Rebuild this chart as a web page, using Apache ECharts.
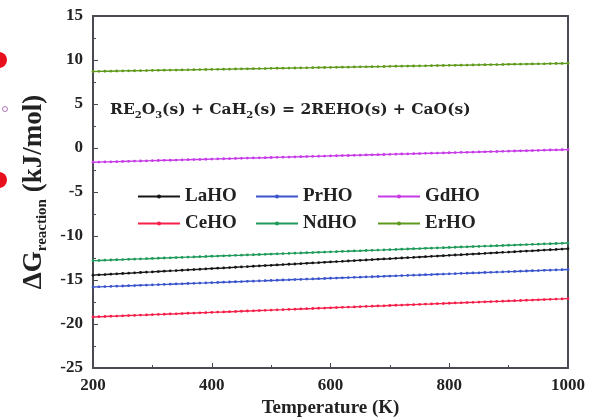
<!DOCTYPE html>
<html>
<head>
<meta charset="utf-8">
<script src="https://cdn.jsdelivr.net/npm/echarts@6/dist/echarts.min.js"></script>
<style>
  html, body { margin: 0; padding: 0; background: #fff; }
  #chart { width: 597px; height: 419px; }
</style>
</head>
<body>
<div id="chart"></div>
<script>
// Temperature grid (K)
const temperatures = [
  200, 210, 220, 230, 240, 250, 260, 270, 280, 290,
  300, 310, 320, 330, 340, 350, 360, 370, 380, 390,
  400, 410, 420, 430, 440, 450, 460, 470, 480, 490,
  500, 510, 520, 530, 540, 550, 560, 570, 580, 590,
  600, 610, 620, 630, 640, 650, 660, 670, 680, 690,
  700, 710, 720, 730, 740, 750, 760, 770, 780, 790,
  800, 810, 820, 830, 840, 850, 860, 870, 880, 890,
  900, 910, 920, 930, 940, 950, 960, 970, 980, 990,
  1000
];

// Gibbs free energy of reaction (kJ/mol) for each hydride oxide
const laHO = [
  -14.45, -14.41, -14.38, -14.34, -14.30, -14.26, -14.23, -14.19, -14.15, -14.11,
  -14.08, -14.04, -14.00, -13.96, -13.93, -13.89, -13.85, -13.81, -13.78, -13.74,
  -13.70, -13.66, -13.63, -13.59, -13.55, -13.51, -13.48, -13.44, -13.40, -13.36,
  -13.33, -13.29, -13.25, -13.21, -13.18, -13.14, -13.10, -13.06, -13.03, -12.99,
  -12.95, -12.91, -12.88, -12.84, -12.80, -12.76, -12.73, -12.69, -12.65, -12.61,
  -12.58, -12.54, -12.50, -12.46, -12.43, -12.39, -12.35, -12.31, -12.28, -12.24,
  -12.20, -12.16, -12.13, -12.09, -12.05, -12.01, -11.98, -11.94, -11.90, -11.86,
  -11.83, -11.79, -11.75, -11.71, -11.68, -11.64, -11.60, -11.56, -11.53, -11.49,
  -11.45
];
const ceHO = [
  -19.20, -19.17, -19.15, -19.12, -19.10, -19.07, -19.04, -19.02, -18.99, -18.97,
  -18.94, -18.91, -18.89, -18.86, -18.84, -18.81, -18.78, -18.76, -18.73, -18.71,
  -18.68, -18.65, -18.63, -18.60, -18.58, -18.55, -18.52, -18.50, -18.47, -18.45,
  -18.42, -18.39, -18.37, -18.34, -18.32, -18.29, -18.26, -18.24, -18.21, -18.19,
  -18.16, -18.13, -18.11, -18.08, -18.06, -18.03, -18.00, -17.98, -17.95, -17.93,
  -17.90, -17.87, -17.85, -17.82, -17.80, -17.77, -17.74, -17.72, -17.69, -17.67,
  -17.64, -17.61, -17.59, -17.56, -17.54, -17.51, -17.48, -17.46, -17.43, -17.41,
  -17.38, -17.35, -17.33, -17.30, -17.28, -17.25, -17.22, -17.20, -17.17, -17.15,
  -17.12
];
const prHO = [
  -15.80, -15.78, -15.75, -15.73, -15.70, -15.68, -15.65, -15.63, -15.60, -15.58,
  -15.55, -15.53, -15.50, -15.48, -15.45, -15.43, -15.40, -15.38, -15.35, -15.33,
  -15.30, -15.28, -15.25, -15.23, -15.20, -15.18, -15.15, -15.13, -15.10, -15.08,
  -15.05, -15.03, -15.00, -14.98, -14.95, -14.93, -14.90, -14.88, -14.85, -14.83,
  -14.80, -14.78, -14.75, -14.73, -14.70, -14.68, -14.65, -14.63, -14.60, -14.58,
  -14.55, -14.53, -14.50, -14.48, -14.45, -14.43, -14.40, -14.38, -14.35, -14.33,
  -14.30, -14.28, -14.25, -14.23, -14.20, -14.18, -14.15, -14.13, -14.10, -14.08,
  -14.05, -14.03, -14.00, -13.98, -13.95, -13.93, -13.90, -13.88, -13.85, -13.83,
  -13.80
];
const ndHO = [
  -12.80, -12.78, -12.75, -12.73, -12.70, -12.68, -12.65, -12.63, -12.60, -12.58,
  -12.55, -12.53, -12.50, -12.48, -12.45, -12.43, -12.40, -12.38, -12.35, -12.33,
  -12.30, -12.28, -12.25, -12.23, -12.20, -12.18, -12.15, -12.13, -12.10, -12.08,
  -12.05, -12.03, -12.00, -11.98, -11.95, -11.93, -11.90, -11.88, -11.85, -11.83,
  -11.80, -11.78, -11.75, -11.73, -11.70, -11.68, -11.65, -11.63, -11.60, -11.58,
  -11.55, -11.53, -11.50, -11.48, -11.45, -11.43, -11.40, -11.38, -11.35, -11.33,
  -11.30, -11.28, -11.25, -11.23, -11.20, -11.18, -11.15, -11.13, -11.10, -11.08,
  -11.05, -11.03, -11.00, -10.98, -10.95, -10.93, -10.90, -10.88, -10.85, -10.83,
  -10.80
];
const gdHO = [
  -1.62, -1.60, -1.58, -1.57, -1.55, -1.53, -1.51, -1.49, -1.48, -1.46,
  -1.44, -1.42, -1.40, -1.39, -1.37, -1.35, -1.33, -1.31, -1.30, -1.28,
  -1.26, -1.24, -1.22, -1.21, -1.19, -1.17, -1.15, -1.13, -1.12, -1.10,
  -1.08, -1.06, -1.04, -1.03, -1.01, -0.99, -0.97, -0.95, -0.94, -0.92,
  -0.90, -0.88, -0.86, -0.85, -0.83, -0.81, -0.79, -0.77, -0.76, -0.74,
  -0.72, -0.70, -0.68, -0.67, -0.65, -0.63, -0.61, -0.59, -0.58, -0.56,
  -0.54, -0.52, -0.50, -0.49, -0.47, -0.45, -0.43, -0.41, -0.40, -0.38,
  -0.36, -0.34, -0.32, -0.31, -0.29, -0.27, -0.25, -0.23, -0.22, -0.20,
  -0.18
];
const erHO = [
  8.70, 8.71, 8.72, 8.73, 8.75, 8.76, 8.77, 8.78, 8.79, 8.80,
  8.82, 8.83, 8.84, 8.85, 8.86, 8.87, 8.88, 8.90, 8.91, 8.92,
  8.93, 8.94, 8.95, 8.96, 8.98, 8.99, 9.00, 9.01, 9.02, 9.03,
  9.05, 9.06, 9.07, 9.08, 9.09, 9.10, 9.11, 9.13, 9.14, 9.15,
  9.16, 9.17, 9.18, 9.19, 9.21, 9.22, 9.23, 9.24, 9.25, 9.26,
  9.28, 9.29, 9.30, 9.31, 9.32, 9.33, 9.34, 9.36, 9.37, 9.38,
  9.39, 9.40, 9.41, 9.42, 9.44, 9.45, 9.46, 9.47, 9.48, 9.49,
  9.51, 9.52, 9.53, 9.54, 9.55, 9.56, 9.57, 9.59, 9.60, 9.61,
  9.62
];

const seriesNames = ['LaHO', 'CeHO', 'PrHO', 'NdHO', 'GdHO', 'ErHO'];
const seriesValues = [laHO, ceHO, prHO, ndHO, gdHO, erHO];
const seriesColors = ['#161616', '#f5204a', '#3a55cc', '#1f9a5a', '#c63be6', '#5f9a1c'];

const xTicks = [200, 400, 600, 800, 1000];
const yTicks = [-25, -20, -15, -10, -5, 0, 5, 10, 15];

const SERIF = '"Liberation Serif", "DejaVu Serif", serif';
const axisColor = '#4a4a52';

const chart = echarts.init(document.getElementById('chart'), null, { renderer: 'canvas' });

const series = seriesNames.map((name, i) => ({
  name,
  type: 'line',
  data: temperatures.map((t, k) => [t, seriesValues[i][k]]),
  symbol: 'circle',
  symbolSize: 2.8,
  showSymbol: true,
  lineStyle: { width: 1.4, color: seriesColors[i] },
  itemStyle: { color: seriesColors[i] },
  emphasis: { disabled: true },
  animation: false,
  z: 3
}));

// legend placed as a 3 x 2 block
const legendSpots = {
  LaHO: [132, 182], PrHO: [250, 182], GdHO: [372, 182],
  CeHO: [132, 209], NdHO: [250, 209], ErHO: [372, 209]
};
const legends = seriesNames.map(name => ({
  data: [name],
  left: legendSpots[name][0],
  top: legendSpots[name][1],
  orient: 'horizontal',
  itemWidth: 42,
  itemHeight: 5,
  itemGap: 4,
  selectedMode: false,
  textStyle: { fontFamily: SERIF, fontWeight: 'bold', fontSize: 19, color: '#222', padding: [0, 0, 0, 0] }
}));

chart.setOption({
  backgroundColor: '#ffffff',
  animation: false,
  grid: { left: 93, right: 29, top: 16, bottom: 51, containLabel: false, outerBoundsMode: 'none' },
  legend: legends,
  xAxis: [{
    type: 'value',
    min: 200, max: 1000, interval: 200,
    name: 'Temperature (K)',
    nameLocation: 'middle',
    nameGap: 29,
    nameTextStyle: { fontFamily: SERIF, fontWeight: 'bold', fontSize: 19, color: '#222' },
    axisLine: { show: true, onZero: false, lineStyle: { color: axisColor, width: 2 } },
    axisTick: { show: true, inside: true, length: 5, lineStyle: { color: axisColor, width: 1 } },
    minorTick: { show: true, splitNumber: 2, length: 3, lineStyle: { color: axisColor } },
    axisLabel: {
      fontFamily: SERIF, fontWeight: 'bold', fontSize: 17, color: '#222', margin: 9,
      formatter: v => xTicks.includes(v) ? String(v) : ''
    },
    splitLine: { show: false }
  }, {
    type: 'value', position: 'top',
    min: 200, max: 1000, interval: 200,
    axisLine: { show: true, onZero: false, lineStyle: { color: axisColor, width: 2 } },
    axisTick: { show: false }, axisLabel: { show: false }, splitLine: { show: false }
  }],
  yAxis: [{
    type: 'value',
    min: -25, max: 15, interval: 5,
    name: '{main|ΔG}{sub|reaction}{main| (kJ/mol)}',
    nameLocation: 'middle',
    nameGap: 36,
    nameRotate: 90,
    nameTextStyle: {
      rich: {
        main: { fontFamily: SERIF, fontWeight: 'bold', fontSize: 27, color: '#222', lineHeight: 30 },
        sub: { fontFamily: SERIF, fontWeight: 'bold', fontSize: 15, color: '#222', lineHeight: 30, verticalAlign: 'bottom' }
      }
    },
    axisLine: { show: true, onZero: false, lineStyle: { color: axisColor, width: 2 } },
    axisTick: { show: true, inside: true, length: 5, lineStyle: { color: axisColor, width: 1 } },
    minorTick: { show: true, splitNumber: 2, length: 3, lineStyle: { color: axisColor } },
    axisLabel: {
      fontFamily: SERIF, fontWeight: 'bold', fontSize: 17, color: '#222', margin: 10,
      formatter: v => yTicks.includes(v) ? String(v) : ''
    },
    splitLine: { show: false }
  }, {
    type: 'value', position: 'right',
    min: -25, max: 15, interval: 5,
    axisLine: { show: true, onZero: false, lineStyle: { color: axisColor, width: 2 } },
    axisTick: { show: false }, axisLabel: { show: false }, splitLine: { show: false }
  }],
  series,
  graphic: [
    {
      type: 'text', left: 110, top: 102, z: 10,
      style: {
        text: '{t|RE}{s|2}{t|O}{s|3}{t|(s) + CaH}{s|2}{t|(s) = 2REHO(s) + CaO(s)}',
        rich: {
          t: { fontFamily: '"DejaVu Serif", serif', fontWeight: 'bold', fontSize: 15.5, fill: '#222', lineHeight: 20 },
          s: { fontFamily: '"DejaVu Serif", serif', fontWeight: 'bold', fontSize: 10, fill: '#222', lineHeight: 20, verticalAlign: 'bottom' }
        }
      }
    },
    // partial markers from the adjoining panel at the left edge
    { type: 'circle', shape: { cx: -1, cy: 60, r: 8 }, style: { fill: '#e8101c' }, z: 10 },
    { type: 'circle', shape: { cx: 5, cy: 109, r: 2.5 }, style: { fill: '#fff', stroke: '#b07ab8', lineWidth: 1 }, z: 10 },
    { type: 'circle', shape: { cx: -1, cy: 180, r: 8 }, style: { fill: '#e8101c' }, z: 10 }
  ]
});
</script>
</body>
</html>
